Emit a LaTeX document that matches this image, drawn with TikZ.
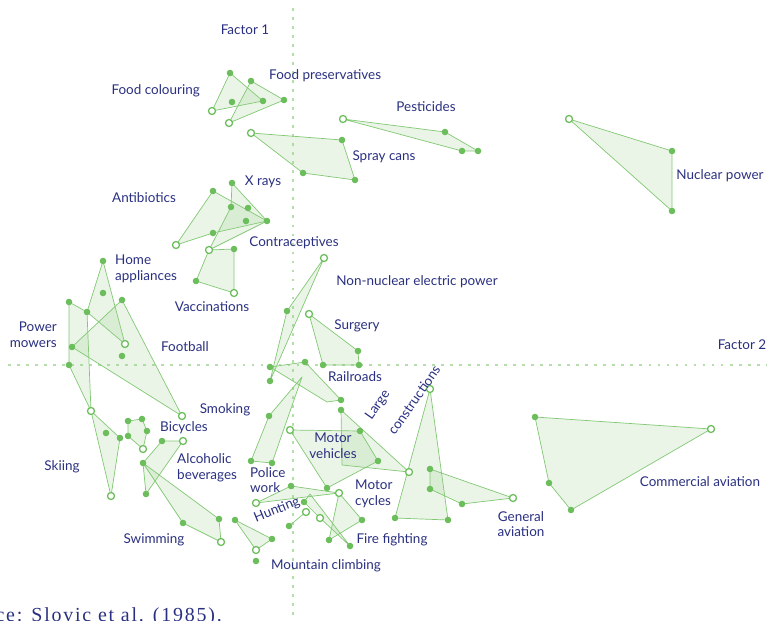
\documentclass[tikz,border=0pt]{standalone}
\usepackage{fontspec}
\setmainfont{Lato}
\newfontfamily\srcfont[LetterSpace=9]{Liberation Serif}
\usetikzlibrary{backgrounds}
\definecolor{ink}{RGB}{42,48,128}
\definecolor{leaf}{RGB}{108,190,92}
\definecolor{pale}{RGB}{150,205,135}
\definecolor{axisgreen}{RGB}{180,222,170}
\newlength{\dotsize}
\setlength{\dotsize}{5.6pt}
\tikzset{pt/.style = {shape=circle,fill=leaf,inner sep=0pt,minimum size=\dotsize}}
\tikzset{hpt/.style = {shape=circle,draw=leaf,fill=white,line width=1.1pt,inner sep=0pt,minimum size=6pt}}
\tikzset{group/.style = {draw=leaf!85,line width=0.6pt,fill=pale,fill opacity=0.2,line join=round}}
\tikzset{axisline/.style = {draw=axisgreen,line width=2.4pt,dash pattern=on 2.4pt off 5.3pt}}
\tikzset{lbl/.style = {text=ink,font=\fontsize{11.5}{13.5}\selectfont,inner sep=0pt}}

\begin{document}
\begin{tikzpicture}[x=0.03cm,y=-0.03cm]
        \useasboundingbox (0,0) rectangle (767,620);
        \node[pt] (fc1) at (230,73) {};
        \node[pt] (fc2) at (263,101) {};
        \node[hpt] (fc3) at (212,111) {};
        \node[pt] (fc4) at (232,102) {};
        \node[pt] (fp1) at (251,81) {};
        \node[pt] (fp2) at (284,100) {};
        \node[hpt] (fp3) at (229,123) {};
        \node[hpt] (sc1) at (251,133) {};
        \node[pt] (sc2) at (342,140) {};
        \node[pt] (sc3) at (355,180) {};
        \node[pt] (sc4) at (303,173) {};
        \node[hpt] (pe1) at (343,119) {};
        \node[pt] (pe2) at (445,132) {};
        \node[pt] (pe3) at (478,151) {};
        \node[pt] (pe4) at (462,151) {};
        \node[hpt] (np1) at (569,119) {};
        \node[pt] (np2) at (672,151) {};
        \node[pt] (np3) at (672,211) {};
        \node[hpt] (ab1) at (176,245) {};
        \node[pt] (ab2) at (213,191) {};
        \node[pt] (ab3) at (267,221) {};
        \node[pt] (ab4) at (213,233) {};
        \node[pt] (ab5) at (246,221) {};
        \node[pt] (xr1) at (232,183) {};
        \node[pt] (xr2) at (231,207) {};
        \node[pt] (xr3) at (248,208) {};
        \node[hpt] (va1) at (209,250) {};
        \node[pt] (va2) at (234,249) {};
        \node[hpt] (va3) at (234,293) {};
        \node[pt] (va4) at (196,281) {};
        \node[hpt] (nn1) at (324,258) {};
        \node[pt] (nn2) at (287,311) {};
        \node[pt] (nn3) at (270,381) {};
        \node[hpt] (su1) at (309,314) {};
        \node[pt] (su2) at (358,351) {};
        \node[pt] (su3) at (359,365) {};
        \node[pt] (su4) at (323,365) {};
        \node[pt] (rr1) at (270,367) {};
        \node[pt] (rr2) at (305,362) {};
        \node[pt] (rr3) at (341,400) {};
        \coordinate (rr4) at (327,402);
        \coordinate (sm1) at (302,377);
        \node[pt] (sm2) at (269,416) {};
        \node[pt] (sm3) at (251,461) {};
        \node[pt] (sm4) at (272,463) {};
        \node[pt] (lc1) at (341,410) {};
        \node[hpt] (lc2) at (409,472) {};
        \coordinate (lc3) at (342,465);
        \node[hpt] (mv1) at (290,430) {};
        \node[pt] (mv2) at (360,431) {};
        \node[pt] (mv3) at (378,461) {};
        \node[pt] (mv4) at (327,488) {};
        \node[pt] (pw1) at (291,486) {};
        \node[hpt] (pw2) at (339,493) {};
        \node[hpt] (pw3) at (256,503) {};
        \node[pt] (mc1) at (362,520) {};
        \node[pt] (mc2) at (329,540) {};
        \coordinate (ff1) at (310,494);
        \node[pt] (ff2) at (350,546) {};
        \node[hpt] (ff3) at (320,518) {};
        \node[pt] (ff4) at (304,502) {};
        \node[pt] (hu1) at (289,526) {};
        \node[hpt] (hu2) at (306,512) {};
        \node[pt] (mt1) at (235,520) {};
        \node[pt] (mt2) at (272,539) {};
        \node[hpt] (mt3) at (256,550) {};
        \node[pt] (mt4) at (256,561) {};
        \node[pt] (ha1) at (103,261) {};
        \node[hpt] (ha2) at (125,344) {};
        \node[pt] (ha3) at (87,312) {};
        \node[pt] (ha4) at (103,293) {};
        \node[pt] (pm1) at (69,302) {};
        \node[hpt] (pm3) at (91,411) {};
        \node[pt] (pm4) at (69,365) {};
        \node[pt] (fb1) at (122,300) {};
        \node[hpt] (fb2) at (182,416) {};
        \node[pt] (fb3) at (72,347) {};
        \node[pt] (fb4) at (122,356) {};
        \node[pt] (sk2) at (120,438) {};
        \node[hpt] (sk3) at (111,496) {};
        \node[pt] (sk4) at (106,433) {};
        \node[pt] (bi1) at (128,421) {};
        \node[pt] (bi2) at (142,419) {};
        \node[pt] (bi3) at (147,431) {};
        \node[hpt] (bi4) at (143,449) {};
        \node[pt] (bi5) at (128,436) {};
        \node[pt] (al1) at (162,441) {};
        \node[hpt] (al2) at (183,441) {};
        \node[pt] (al3) at (146,494) {};
        \node[pt] (al4) at (143,463) {};
        \node[pt] (sw2) at (219,519) {};
        \node[hpt] (sw3) at (221,542) {};
        \node[pt] (sw4) at (183,523) {};
        \node[hpt] (gt1) at (430,389) {};
        \node[pt] (gt2) at (448,520) {};
        \node[pt] (gt3) at (395,518) {};
        \node[pt] (ga1) at (430,469) {};
        \node[hpt] (ga2) at (513,498) {};
        \node[pt] (ga3) at (462,504) {};
        \node[pt] (ga4) at (430,489) {};
        \node[pt] (ca1) at (535,417) {};
        \node[hpt] (ca2) at (711,429) {};
        \node[pt] (ca3) at (571,510) {};
        \node[pt] (ca4) at (549,483) {};
        \begin{scope}[on background layer]
            \coordinate (f1top) at (293,8);
            \coordinate (f1bot) at (293,620);
            \coordinate (f2lft) at (8,365);
            \coordinate (f2rgt) at (767,365);
            \draw[axisline] (f1top) -- (f1bot);
            \draw[axisline] (f2lft) -- (f2rgt);
            \filldraw[group] (fc1.center) -- (fc2.center) -- (fc3.center) -- cycle;
            \filldraw[group] (fp1.center) -- (fp2.center) -- (fp3.center) -- cycle;
            \filldraw[group] (sc1.center) -- (sc2.center) -- (sc3.center) -- (sc4.center) -- cycle;
            \filldraw[group] (pe1.center) -- (pe2.center) -- (pe3.center) -- (pe4.center) -- cycle;
            \filldraw[group] (np1.center) -- (np2.center) -- (np3.center) -- cycle;
            \filldraw[group] (ab1.center) -- (ab2.center) -- (ab3.center) -- (ab4.center) -- cycle;
            \filldraw[group] (xr1.center) -- (ab3.center) -- (va1.center) -- (xr2.center) -- cycle;
            \filldraw[group] (va1.center) -- (va2.center) -- (va3.center) -- (va4.center) -- cycle;
            \filldraw[group] (nn1.center) -- (nn2.center) -- (nn3.center) -- cycle;
            \filldraw[group] (su1.center) -- (su2.center) -- (su3.center) -- (su4.center) -- cycle;
            \filldraw[group] (rr1.center) -- (rr2.center) -- (rr3.center) -- (rr4) -- cycle;
            \filldraw[group] (sm1) -- (sm2.center) -- (sm3.center) -- (sm4.center) -- cycle;
            \filldraw[group] (lc1.center) -- (lc2.center) -- (lc3) -- cycle;
            \filldraw[group] (mv1.center) -- (mv2.center) -- (mv3.center) -- (mv4.center) -- cycle;
            \filldraw[group] (pw1.center) -- (pw2.center) -- (pw3.center) -- cycle;
            \filldraw[group] (pw2.center) -- (mc1.center) -- (mc2.center) -- cycle;
            \filldraw[group] (ff1) -- (ff2.center) -- (ff3.center) -- (ff4.center) -- cycle;
            \draw[group] (hu1.center) -- (hu2.center);
            \filldraw[group] (mt1.center) -- (mt2.center) -- (mt3.center) -- cycle;
            \filldraw[group] (ha1.center) -- (ha2.center) -- (ha3.center) -- cycle;
            \filldraw[group] (pm1.center) -- (ha3.center) -- (pm3.center) -- (pm4.center) -- cycle;
            \filldraw[group] (fb1.center) -- (fb2.center) -- (fb3.center) -- cycle;
            \filldraw[group] (pm3.center) -- (sk2.center) -- (sk3.center) -- cycle;
            \filldraw[group] (bi1.center) -- (bi2.center) -- (bi3.center) -- (bi4.center) -- (bi5.center) -- cycle;
            \filldraw[group] (al1.center) -- (al2.center) -- (al3.center) -- (al4.center) -- cycle;
            \filldraw[group] (al4.center) -- (sw2.center) -- (sw3.center) -- (sw4.center) -- cycle;
            \filldraw[group] (gt1.center) -- (gt2.center) -- (gt3.center) -- cycle;
            \filldraw[group] (ga1.center) -- (ga2.center) -- (ga3.center) -- (ga4.center) -- cycle;
            \filldraw[group] (ca1.center) -- (ca2.center) -- (ca3.center) -- (ca4.center) -- cycle;
        \end{scope}
        \node[lbl] (fac1) at (245,30) {Factor 1};
        \node[lbl] (fac2) at (742,345) {Factor 2};
        \node[lbl,anchor=east] (tfc) at (200,91) {Food colouring};
        \node[lbl,anchor=west] (tfp) at (269,76) {Food preservatives};
        \node[lbl] (tpe) at (426,107) {Pesticides};
        \node[lbl] (tsc) at (384,157) {Spray cans};
        \node[lbl] (tnp) at (720,176) {Nuclear power};
        \node[lbl] (txr) at (263,182) {X rays};
        \node[lbl] (tab) at (144,198) {Antibiotics};
        \node[lbl] (tco) at (294,243) {Contraceptives};
        \node[lbl,align=left,anchor=west] (tha) at (115,269) {Home\\appliances};
        \node[lbl] (tnn) at (417,282) {Non-nuclear electric power};
        \node[lbl] (tva) at (212,307) {Vaccinations};
        \node[lbl,align=right,anchor=east] (tpm) at (57,335) {Power\\mowers};
        \node[lbl] (tsu) at (357,326) {Surgery};
        \node[lbl] (tfb) at (185,347) {Football};
        \node[lbl] (trr) at (355,377) {Railroads};
        \node[lbl,rotate=55] (tlc1) at (378,405) {Large};
        \node[lbl,rotate=55] (tlc2) at (414,400) {constructions};
        \node[lbl] (tsm) at (225,410) {Smoking};
        \node[lbl] (tbi) at (184,428) {Bicycles};
        \node[lbl] (tsk) at (62,467) {Skiing};
        \node[lbl,align=center] (tmv) at (333,446) {Motor\\vehicles};
        \node[lbl,align=left,anchor=west] (tal) at (177,468) {Alcoholic\\beverages};
        \node[lbl,align=left,anchor=west] (tpw) at (250,480) {Police\\work};
        \node[lbl,align=left,anchor=west] (tmc) at (355,494) {Motor\\cycles};
        \node[lbl] (tca) at (700,482) {Commercial aviation};
        \node[lbl,align=center] (tga) at (521,524) {General\\aviation};
        \node[lbl,rotate=22] (thu) at (277,510) {Hunting};
        \node[lbl] (tsw) at (154,540) {Swimming};
        \node[lbl] (tff) at (392,540) {Fire fighting};
        \node[lbl] (tmt) at (326,566) {Mountain climbing};
        \node[lbl,anchor=base east,font=\srcfont\fontsize{17}{19}\selectfont] (src) at (222,621) {Source: Slovic et al. (1985).};
    \end{tikzpicture}
\end{document}
